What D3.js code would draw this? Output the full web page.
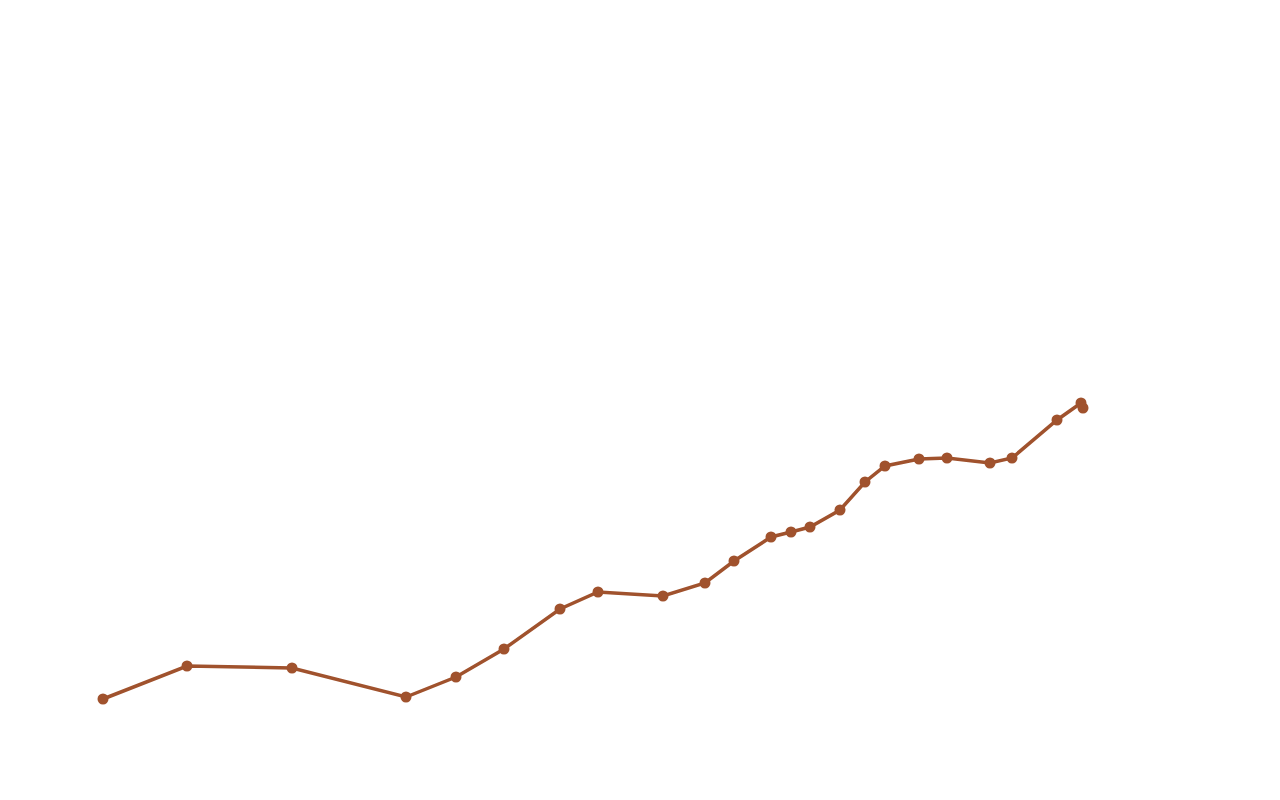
<!DOCTYPE html>
<html><head><meta charset="utf-8">
<script src="https://cdn.jsdelivr.net/npm/d3@7"></script>
<style>body{margin:0;background:#fff}</style></head>
<body><svg id="c" width="1280" height="800"></svg>
<script>
const xValues=[0,84,189,303,353,401,457,495,560,602,631,668,688,707,737,762,782,816,844,887,909,954,978,980];
const yValues=[51,84,82,53,73,101,141,158,154,167,189,213,218,223,240,268,284,291,292,287,292,330,347,342];
const data=xValues.map((x,i)=>({x,y:yValues[i]}));
const svg=d3.select("#c");
const x=d3.scaleLinear().domain([0,980]).range([103,1083]);
const y=d3.scaleLinear().domain([0,700]).range([750,50]);
const col="#a0522d";
svg.append("path").datum(data).attr("fill","none").attr("stroke",col).attr("stroke-width",3.5)
 .attr("d",d3.line().x(d=>x(d.x)).y(d=>y(d.y)));
svg.selectAll("circle").data(data).join("circle").attr("cx",d=>x(d.x)).attr("cy",d=>y(d.y)).attr("r",5.5).attr("fill",col);
</script></body></html>
